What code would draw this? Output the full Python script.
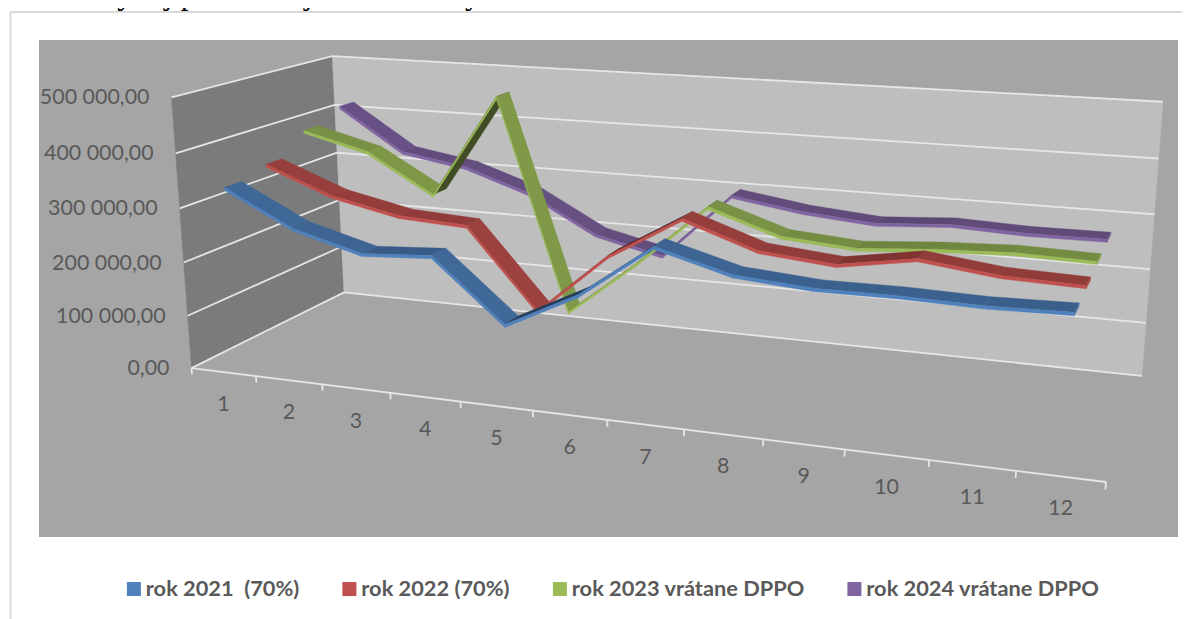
import numpy as np, pandas as pd, altair as alt

months = [str(i) for i in range(1, 13)]
series_names = ["rok 2021 \u00a0(70%)", "rok 2022 (70%)", "rok 2023 vrátane DPPO", "rok 2024 vrátane DPPO"]
series_colors = ["#4f81bd", "#c0504d", "#9bbb59", "#8064a2"]
rok_2021 = [335000, 271000, 237000, 245000, 135000, 201000, 297000, 261000, 251000, 252000, 249000, 252000]
rok_2022 = [351000, 302000, 275000, 268000, 122000, 236000, 314000, 269000, 257000, 279000, 263000, 259000]
rok_2023 = [391000, 359000, 286000, 480000, 83000, 188000, 305000, 262000, 252000, 262000, 268000, 265000]
rok_2024 = [416000, 334000, 313000, 270000, 200000, 170000, 297000, 277000, 266000, 275000, 270000, 271000]
all_series = [rok_2021, rok_2022, rok_2023, rok_2024]
y_ticks = [0, 100000, 200000, 300000, 400000, 500000]
y_labels = ["0,00", "100 000,00", "200 000,00", "300 000,00", "400 000,00", "500 000,00"]
title_text = "Graf – vývoj podielovej dane za roky 2021 – 2024"

# Perspective camera of the 3-D box, fitted to where its edges lie on the page: (month, depth, value/500000) -> page
tx = [191, 256, 323, 390, 461, 533, 607, 684, 763, 845, 929, 1016, 1106]
ty = [367, 377, 384, 393, 402, 411, 420, 430, 439, 449, 460, 471, 482]
pts = [(i / 12, 0, 0, tx[i], ty[i]) for i in range(13)]
pts += [(0, 1, 0, 344, 292), (1, 1, 0, 1142, 376), (0, 1, 1, 332, 57), (1, 1, 1, 1163, 102)]
pts += [(0, 0, 1, 171.5, 98), (0, 0, .8, 175, 153), (0, 0, .6, 180, 208), (0, 0, .4, 184, 263), (0, 0, .2, 187.5, 315)]
pts += [(0, 1, .8, 335, 104), (0, 1, .6, 337, 152), (0, 1, .4, 340, 200), (0, 1, .2, 341, 248)]
pts += [(1, 1, .8, 1159, 158), (1, 1, .6, 1154, 214), (1, 1, .4, 1150, 269), (1, 1, .2, 1146, 323)]
A = []
for u, w, v, x, y in pts:
    X = [u, w, v, 1]
    A.append(X + [0] * 4 + [-x * c for c in X])
    A.append([0] * 4 + X + [-y * c for c in X])
P = np.linalg.svd(np.array(A, float))[2][-1].reshape(3, 4)


def proj(u, w, val):
    h = P @ np.array([u, w, val / 500000, 1.0])
    return h[0] / h[2], h[1] / h[2]


def shade(col, f):
    r, g, b = int(col[1:3], 16), int(col[3:5], 16), int(col[5:7], 16)
    return "#%02x%02x%02x" % (int(r * f), int(g * f), int(b * f))


def add_poly(store, corners, color):
    pid = f"{len(store):05d}"
    for k, (u, w, v) in enumerate(corners):
        x, y = proj(u, w, v)
        store.append({"id": pid, "k": k, "x": x, "y": y, "c": color})


walls = []
add_poly(walls, [(0, 0, 0), (0, 1, 0), (0, 1, 500000), (0, 0, 500000)], "#7b7b7b")
add_poly(walls, [(0, 1, 0), (1, 1, 0), (1, 1, 500000), (0, 1, 500000)], "#bebebe")

lines = []
def add_line(corners):
    pid = f"{len(lines):05d}"
    for k, (u, w, v) in enumerate(corners):
        x, y = proj(u, w, v)
        lines.append({"id": pid, "k": k, "x": x, "y": y})


for tick in y_ticks:
    add_line([(0, 0, tick), (0, 1, tick), (1, 1, tick)])
add_line([(0, 0, 0), (1, 0, 0)])
for i in range(13):
    add_line([(i / 12, 0, 0), (i / 12, 0, -12000)])

THICK = 5500
ribbons = []
for s in range(3, -1, -1):
    w0, w1 = .075 + .25 * s, .175 + .25 * s
    vals, col = all_series[s], series_colors[s]
    for i in range(11):
        u1, u2 = (i + .5) / 12, (i + 1.5) / 12
        v1, v2 = vals[i], vals[i + 1]
        ds = (v2 - v1) / 100000
        f = min(.82, .75 + .08 * abs(ds)) if ds <= 0 else max(.42, .75 - .4 * ds)
        add_poly(ribbons, [(u1, w0, v1), (u1, w1, v1), (u2, w1, v2), (u2, w0, v2)], shade(col, f))
    for i in range(11):
        u1, u2 = (i + .5) / 12, (i + 1.5) / 12
        v1, v2 = vals[i], vals[i + 1]
        add_poly(ribbons, [(u1, w0, v1), (u2, w0, v2), (u2, w0, v2 - THICK), (u1, w0, v1 - THICK)], col)
    u = 11.5 / 12
    add_poly(ribbons, [(u, w0, vals[11]), (u, w1, vals[11]), (u, w1, vals[11] - THICK), (u, w0, vals[11] - THICK)], shade(col, .9))

X = alt.X("x:Q", axis=None, scale=alt.Scale(domain=[8, 1182], range=[0, 1174], nice=False, zero=False))
Y = alt.Y("y:Q", axis=None, scale=alt.Scale(domain=[619, 8], range=[611, 0], nice=False, zero=False))


def poly_layer(store):
    return alt.Chart(pd.DataFrame(store)).mark_line(interpolate="linear-closed", strokeWidth=0.4, clip=False).encode(
        x=X, y=Y, order=alt.Order("k:Q"), detail="id:N",
        fill=alt.Fill("c:N", scale=None), stroke=alt.Stroke("c:N", scale=None))


bg = alt.Chart(pd.DataFrame({"x": [39], "x2": [1178], "y": [40], "y2": [537]})).mark_rect(color="#a5a5a5").encode(
    x=X, x2="x2:Q", y=Y, y2="y2:Q")
frame = alt.Chart(pd.DataFrame({"id": ["t", "t", "l", "l"], "k": [0, 1, 0, 1], "x": [10.5, 1182, 10.5, 10.5], "y": [12, 12, 12, 619]})).mark_line(
    color="#d9d9d9", strokeWidth=2).encode(x=X, y=Y, order="k:Q", detail="id:N")
line_layer = alt.Chart(pd.DataFrame(lines)).mark_line(color="#e6e6e6", strokeWidth=1.8).encode(x=X, y=Y, order="k:Q", detail="id:N")

yl = []
for t, lab in zip(y_ticks, y_labels):
    x, y = proj(0, 0, t)
    yl.append({"x": x - 22, "y": y + 1, "t": lab})
xl = []
for i, m in enumerate(months):
    x, y = proj((i + .5) / 12, 0, 0)
    xl.append({"x": x, "y": y + 33, "t": m})
text_style = dict(font="Lato", fontSize=21.4, color="#595959", baseline="middle")
y_text = alt.Chart(pd.DataFrame(yl)).mark_text(align="right", **text_style).encode(x=X, y=Y, text="t:N")
x_text = alt.Chart(pd.DataFrame(xl)).mark_text(align="center", **text_style).encode(x=X, y=Y, text="t:N")
title = alt.Chart(pd.DataFrame({"x": [13], "y": [4], "t": [title_text]})).mark_text(
    align="left", baseline="alphabetic", font="Liberation Serif", fontSize=31.3, color="#000000").encode(x=X, y=Y, text="t:N")

legend = alt.Chart(pd.DataFrame({"s": series_names, "x": [0, 0, 0, 0], "y": [0, 0, 0, 0]})).mark_point(
    shape="square", filled=True, opacity=0).encode(
    x=alt.value(-20), y=alt.value(-20),
    color=alt.Color("s:N", scale=alt.Scale(domain=series_names, range=series_colors), legend=alt.Legend(
        title=None, orient="none", legendX=115, legendY=570, direction="horizontal", columns=4,
        symbolType="square", symbolSize=196, symbolOpacity=1, symbolStrokeWidth=0, symbolOffset=0,
        labelFont="Lato", labelFontSize=21.8, labelFontWeight="bold", labelColor="#595959", labelOffset=1,
        columnPadding=38.5, labelLimit=400)))

chart = alt.layer(bg, frame, poly_layer(walls), line_layer, poly_layer(ribbons), y_text, x_text, title, legend).resolve_scale(
    color="independent", fill="independent", stroke="independent").properties(
    width=1174, height=611, padding=0, autosize=alt.AutoSizeParams(type="none")).configure_view(stroke=None)
chart.save("out.html", embed_options={"renderer": "svg", "actions": False})
